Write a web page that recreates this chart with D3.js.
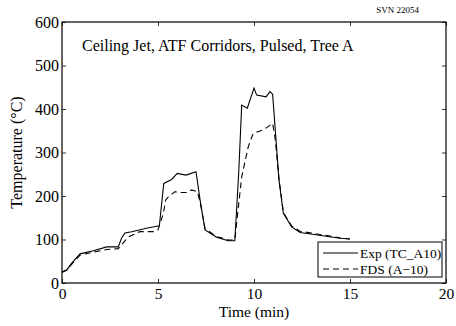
<!DOCTYPE html>
<html><head><meta charset="utf-8">
<script src="https://cdn.jsdelivr.net/npm/d3@7"></script>
<style>body{margin:0;background:#fff}svg{display:block}text{font-family:"Liberation Serif","Times New Roman",serif}</style>
</head><body><svg id="c" width="456" height="326"></svg>
<script>
const expTime = [0,0.25,0.5,0.94,1.63,2.33,2.93,3.1,3.28,3.63,4.4,5.0,5.07,5.3,5.71,6.0,6.46,6.98,7.19,7.45,8.05,8.66,9.0,9.2,9.36,9.65,10.0,10.14,10.63,10.83,10.97,11.3,11.53,11.96,12.4,14.48,15.0];
const expTemp = [25,30,45,67,74,83,83,103,115,118,126,131,131,229,238,252,248,256,191,122,105,97,97,250,409,402,448,432,428,440,434,237,160,129,116,103,101];
const fdsTime = [0,0.25,0.5,0.94,1.63,2.33,2.93,3.28,3.45,4.06,4.84,5.0,5.28,5.4,5.54,5.89,6.15,6.49,6.75,7.05,7.2,7.45,8.05,8.66,9.0,9.13,9.36,9.7,9.96,10.49,10.97,11.1,11.3,11.53,11.96,12.4,14.48,15.0];
const fdsTemp = [25,30,43,64,71,77,79,97,106,118,118,122,160,191,198,210,208,208,214,210,185,125,107,99,99,152,244,313,344,352,367,333,240,162,131,119,104,101];
const xTicks = [0,5,10,15,20];
const yTicks = [0,100,200,300,400,500,600];
const title = "Ceiling Jet, ATF Corridors, Pulsed, Tree A";
const legendLabels = ["Exp (TC_A10)","FDS (A\u221210)"];

const svg = d3.select("#c");
const L=62,R=446,T=22,B=283;
const x = d3.scaleLinear().domain([0,20]).range([L,R]);
const y = d3.scaleLinear().domain([0,600]).range([B,T]);

const g = svg.append("g");
const xb = d3.axisBottom(x).tickValues(xTicks).tickSize(-4).tickPadding(5).tickFormat(d3.format("d"));
const yl = d3.axisLeft(y).tickValues(yTicks).tickSize(-4).tickPadding(3).tickFormat(d3.format("d"));
const xt = d3.axisTop(x).tickValues(xTicks).tickSize(-4).tickFormat("");
const yr = d3.axisRight(y).tickValues(yTicks).tickSize(-4).tickFormat("");
function style(sel){sel.select(".domain").remove();sel.selectAll("line").attr("stroke","#000").attr("stroke-width",0.8);sel.selectAll("text").attr("font-size","16px").attr("fill","#000").attr("font-family","Liberation Serif, serif");}
g.append("g").attr("transform",`translate(0,${B})`).call(xb).call(style).selectAll("text").attr("font-size","15.5px");
g.append("g").attr("transform",`translate(${L},0)`).call(yl).call(style);
g.append("g").attr("transform",`translate(0,${T})`).call(xt).call(style);
g.append("g").attr("transform",`translate(${R},0)`).call(yr).call(style);
svg.append("rect").attr("x",L).attr("y",T).attr("width",R-L).attr("height",B-T).attr("fill","none").attr("stroke","#000").attr("stroke-width",1.2);

const line = d3.line().x(d=>x(d[0])).y(d=>y(d[1]));
svg.append("path").datum(expTime.map((t,i)=>[t,expTemp[i]])).attr("d",line).attr("fill","none").attr("stroke","#000").attr("stroke-width",1.1);
svg.append("path").datum(fdsTime.map((t,i)=>[t,fdsTemp[i]])).attr("d",line).attr("fill","none").attr("stroke","#000").attr("stroke-width",1.1).attr("stroke-dasharray","6,4");

svg.append("text").attr("x",82).attr("y",51).attr("font-size","16px").text(title);
svg.append("text").attr("x",419).attr("y",13).attr("font-size","9px").attr("text-anchor","end").text("SVN 22054");
svg.append("text").attr("x",(L+R)/2).attr("y",317).attr("font-size","15.5px").attr("text-anchor","middle").text("Time (min)");
svg.append("text").attr("transform",`translate(22,${(T+B)/2}) rotate(-90)`).attr("font-size","16px").attr("text-anchor","middle").text("Temperature (\u00B0C)");

const lg = svg.append("g");
lg.append("rect").attr("x",318).attr("y",242).attr("width",124).attr("height",35).attr("fill","#fff").attr("stroke","#000").attr("stroke-width",1);
legendLabels.forEach((lab,i)=>{
  const yy = 253 + i*16;
  lg.append("line").attr("x1",323).attr("x2",358).attr("y1",yy).attr("y2",yy).attr("stroke","#000").attr("stroke-width",1.1).attr("stroke-dasharray",i?"6,4":null);
  lg.append("text").attr("x",360).attr("y",yy+4.5).attr("font-size","13.5px").text(lab);
});
</script></body></html>
